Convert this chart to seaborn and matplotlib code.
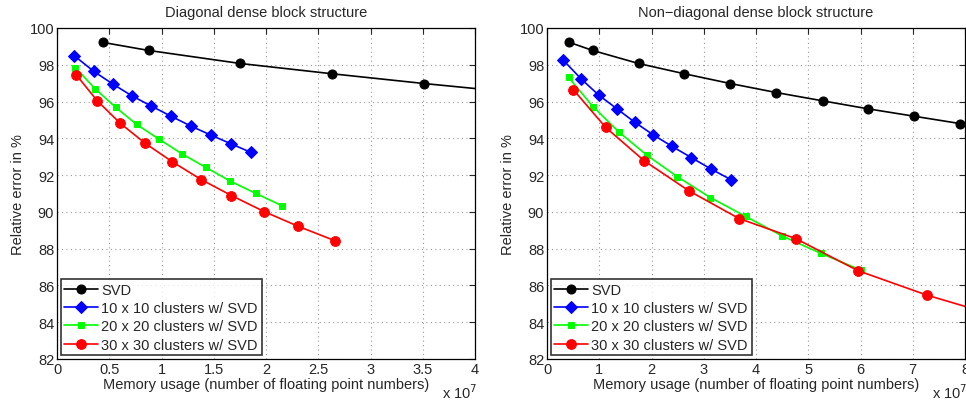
import matplotlib
matplotlib.use("Agg")
import matplotlib.pyplot as plt
import seaborn as sns

# memory usage in units of 1e7, relative error in %
diag_svd_x = [0.436, 0.876, 1.755, 2.634, 3.513, 4.392]
diag_svd_y = [99.22, 98.78, 98.07, 97.51, 96.98, 96.49]
diag_c10_x = [0.166, 0.350, 0.532, 0.717, 0.904, 1.092, 1.280, 1.471, 1.662, 1.854]
diag_c10_y = [98.49, 97.65, 96.96, 96.31, 95.75, 95.20, 94.67, 94.18, 93.71, 93.24]
diag_c20_x = [0.175, 0.366, 0.561, 0.761, 0.978, 1.197, 1.424, 1.659, 1.904, 2.156]
diag_c20_y = [97.85, 96.69, 95.69, 94.76, 93.95, 93.15, 92.42, 91.67, 91.00, 90.33]
diag_c30_x = [0.182, 0.385, 0.605, 0.844, 1.102, 1.379, 1.669, 1.981, 2.306, 2.656]
diag_c30_y = [97.47, 96.04, 94.82, 93.73, 92.73, 91.76, 90.89, 90.02, 89.22, 88.44]

nondiag_svd_x = [0.427, 0.873, 1.752, 2.631, 3.510, 4.389, 5.274, 6.153, 7.032, 7.911]
nondiag_svd_y = [99.22, 98.78, 98.07, 97.51, 96.98, 96.49, 96.04, 95.60, 95.20, 94.80]
nondiag_c10_x = [0.312, 0.650, 0.987, 1.331, 1.682, 2.038, 2.395, 2.764, 3.140, 3.522]
nondiag_c10_y = [98.25, 97.24, 96.36, 95.62, 94.87, 94.18, 93.56, 92.95, 92.33, 91.75]
nondiag_c20_x = [0.414, 0.879, 1.382, 1.917, 2.497, 3.127, 3.803, 4.503, 5.236, 6.019]
nondiag_c20_y = [97.31, 95.73, 94.33, 93.07, 91.91, 90.78, 89.75, 88.69, 87.75, 86.82]
nondiag_c30_x = [0.503, 1.121, 1.860, 2.713, 3.675, 4.758, 5.955, 7.274, 8.730]
nondiag_c30_y = [96.65, 94.60, 92.78, 91.15, 89.64, 88.55, 86.80, 85.47, 84.25]

labels = ["SVD", "10 x 10 clusters w/ SVD", "20 x 20 clusters w/ SVD", "30 x 30 clusters w/ SVD"]
colors = ["black", "blue", "#00ff00", "red"]
markers = ["o", "D", "s", "o"]
msizes = [6.5, 6, 5, 7]

titles = ["Diagonal dense block structure", "Non\u2212diagonal dense block structure"]
xmax = [4, 8]
xticks = [[0, 0.5, 1, 1.5, 2, 2.5, 3, 3.5, 4], [0, 1, 2, 3, 4, 5, 6, 7, 8]]
xticklabels = [["0", "0.5", "1", "1.5", "2", "2.5", "3", "3.5", "4"],
               ["0", "1", "2", "3", "4", "5", "6", "7", "8"]]
yticks = [82, 84, 86, 88, 90, 92, 94, 96, 98, 100]

sns.set_style("white")
plt.rcParams['font.family'] = ['Liberation Sans', 'DejaVu Sans']
plt.rcParams['font.size'] = 10.5

fig = plt.figure(figsize=(9.66, 4.02), dpi=100)
ax_l = fig.add_axes([57 / 966, 1 - 360 / 402, 418 / 966, 331 / 402])
ax_r = fig.add_axes([547 / 966, 1 - 360 / 402, 418 / 966, 331 / 402])

panels = [
    (ax_l, [(diag_svd_x, diag_svd_y), (diag_c10_x, diag_c10_y),
            (diag_c20_x, diag_c20_y), (diag_c30_x, diag_c30_y)]),
    (ax_r, [(nondiag_svd_x, nondiag_svd_y), (nondiag_c10_x, nondiag_c10_y),
            (nondiag_c20_x, nondiag_c20_y), (nondiag_c30_x, nondiag_c30_y)]),
]

fs = 10.5
for i, (ax, series) in enumerate(panels):
    for (xs, ys), lab, c, m, ms in zip(series, labels, colors, markers, msizes):
        sns.lineplot(x=xs, y=ys, ax=ax, color=c, marker=m, markersize=ms,
                     markeredgecolor=c, markerfacecolor=c, linewidth=1.2,
                     label=lab, sort=False, clip_on=True)
    ax.set_xlim(0, xmax[i])
    ax.set_ylim(82, 100)
    ax.set_xticks(xticks[i])
    ax.set_xticklabels(xticklabels[i])
    ax.set_yticks(yticks)
    ax.grid(True, linestyle=(0, (1, 3)), color="#999999", linewidth=0.8)
    ax.tick_params(direction="in", top=True, right=True, length=4, width=0.8,
                   labelsize=fs, pad=2)
    for sp in ax.spines.values():
        sp.set_color("black")
        sp.set_linewidth(0.9)
    ax.set_title(titles[i], fontsize=fs, pad=9)
    ax.set_xlabel("Memory usage (number of floating point numbers)", fontsize=fs, labelpad=1)
    ax.set_ylabel("Relative error in %", fontsize=fs, labelpad=3)
    ax.text(1.005, -0.118, r"x 10$^7$", transform=ax.transAxes, ha="right",
            va="baseline", fontsize=fs)
    leg = ax.legend(loc="lower left", frameon=True, fancybox=False, borderaxespad=0.25,
                    handlelength=2.3, labelspacing=0.29, borderpad=0.25,
                    handletextpad=0.25, fontsize=fs)
    leg.get_frame().set_edgecolor("black")
    leg.get_frame().set_linewidth(1.2)

fig.savefig("out.png", dpi=100)
